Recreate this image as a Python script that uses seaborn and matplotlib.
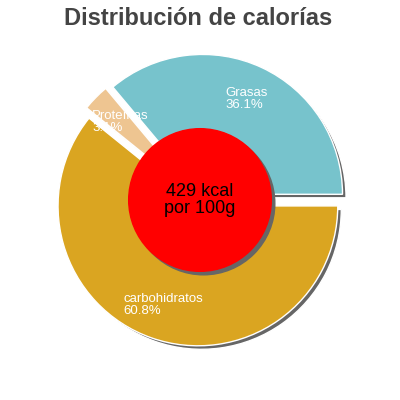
import matplotlib
matplotlib.use("Agg")
import matplotlib.pyplot as plt
import numpy as np
import seaborn as sns

# data
labels = ["Grasas", "Proteínas", "carbohidratos"]
percents = [36.1, 3.1, 60.8]
kcal = 429

sns.set_style("white")
plt.rcParams['font.family'] = ['Liberation Sans', 'DejaVu Sans']
colors = sns.color_palette(["#77c3cc", "#eec591", "#daa521"])

fig = plt.figure(figsize=(4, 4), dpi=100)
ax = fig.add_axes([0, 0, 1, 1])

explode = [0.045] * len(percents)
shadow_off = (0.025, -0.025)

# gray drop shadow under the slices
ax.pie(percents, explode=explode, startangle=0, colors=["#666666"] * 3,
       center=shadow_off, radius=1)
wedges, _ = ax.pie(percents, explode=explode, startangle=0, colors=colors,
                   radius=1)

# red centre disc with shadow
ax.add_patch(plt.Circle(shadow_off, 0.51, color="#666666", zorder=3))
ax.add_patch(plt.Circle((0, 0), 0.51, color="#ff0000", zorder=4))
ax.text(0, 0, f"{kcal} kcal\npor 100g", ha="center", va="center",
        fontsize=13, color="black", linespacing=0.95, zorder=5)

# slice labels
for w, lab, pct, ex in zip(wedges, labels, percents, explode):
    ang = np.deg2rad((w.theta1 + w.theta2) / 2)
    r = ex + 0.75
    ax.text(r * np.cos(ang), r * np.sin(ang), f"{lab}\n{pct}%",
            ha="center", va="center", multialignment="left",
            color="white", fontsize=9.5, linespacing=0.95, zorder=6)

ax.set_xlim(-1.43, 1.43)
ax.set_ylim(-1.43, 1.43)
ax.set_aspect("equal")
ax.axis("off")

fig.text(0.495, 0.9375, "Distribución de calorías", ha="center", va="baseline",
         fontsize=17, fontweight="bold", color="#444444")

plt.savefig("out.png", dpi=100)
